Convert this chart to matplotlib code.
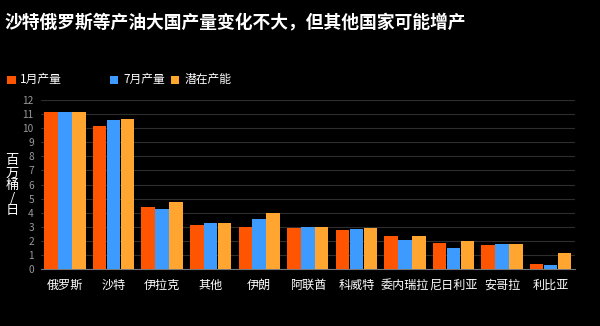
import numpy as np
import matplotlib.pyplot as plt
from matplotlib.patches import Rectangle

plt.rcParams['font.family'] = ['Noto Sans CJK SC', 'DejaVu Sans']

countries = ['俄罗斯', '沙特', '伊拉克', '其他', '伊朗', '阿联酋', '科威特', '委内瑞拉', '尼日利亚', '安哥拉', '利比亚']
jan = [11.15, 10.18, 4.38, 3.15, 2.98, 2.89, 2.77, 2.34, 1.82, 1.70, 0.36]
jul = [11.15, 10.56, 4.28, 3.24, 3.55, 3.00, 2.84, 2.08, 1.49, 1.75, 0.30]
cap = [11.15, 10.65, 4.74, 3.24, 3.96, 3.00, 2.91, 2.37, 1.97, 1.75, 1.16]
series_names = ['1月产量', '7月产量', '潜在产能']
colors = ['#FF5500', '#3D9BFF', '#FFA530']

fig = plt.figure(figsize=(6, 3.26), dpi=100, facecolor='black')
ax = fig.add_axes([0.068, 0.175, 0.89, 0.518], facecolor='black')

x = np.arange(len(countries))
w = 0.287
for i, (vals, c) in enumerate(zip([jan, jul, cap], colors)):
    ax.bar(x + (i - 1) * w, vals, width=w * 0.97, color=c, zorder=3)

ax.set_xlim(-0.5, len(countries) - 0.5)
ax.set_ylim(0, 12)
ax.set_yticks(range(0, 13))
ax.yaxis.grid(True, color='#2e2e2e', linewidth=0.8, zorder=0)
ax.tick_params(axis='y', colors='#9a9a9a', labelsize=7.3, length=0, pad=5)
ax.set_xticks(x)
ax.set_xticklabels(countries, color='white', fontsize=8.7)
ax.tick_params(axis='x', length=0, pad=7)
for s in ['top', 'right', 'left']:
    ax.spines[s].set_visible(False)
ax.spines['bottom'].set_color('#777777')

fig.text(0.02, 0.43, '百\n万\n桶\n/\n日', color='white', fontsize=9.5,
         ha='center', va='center', linespacing=0.95)

fig.text(0.008, 0.932, '沙特俄罗斯等产油大国产量变化不大，但其他国家可能增产',
         color='white', fontsize=12.8, fontweight='bold', ha='left', va='center')

leg_x = [0.012, 0.183, 0.285]
for lx, name, c in zip(leg_x, series_names, colors):
    fig.patches.append(Rectangle((lx, 0.742), 0.014, 0.026, transform=fig.transFigure,
                                 facecolor=c, edgecolor='none'))
    fig.text(lx + 0.022, 0.755, name, color='white', fontsize=8.5, ha='left', va='center')

fig.savefig('out.png', dpi=100, facecolor='black')
